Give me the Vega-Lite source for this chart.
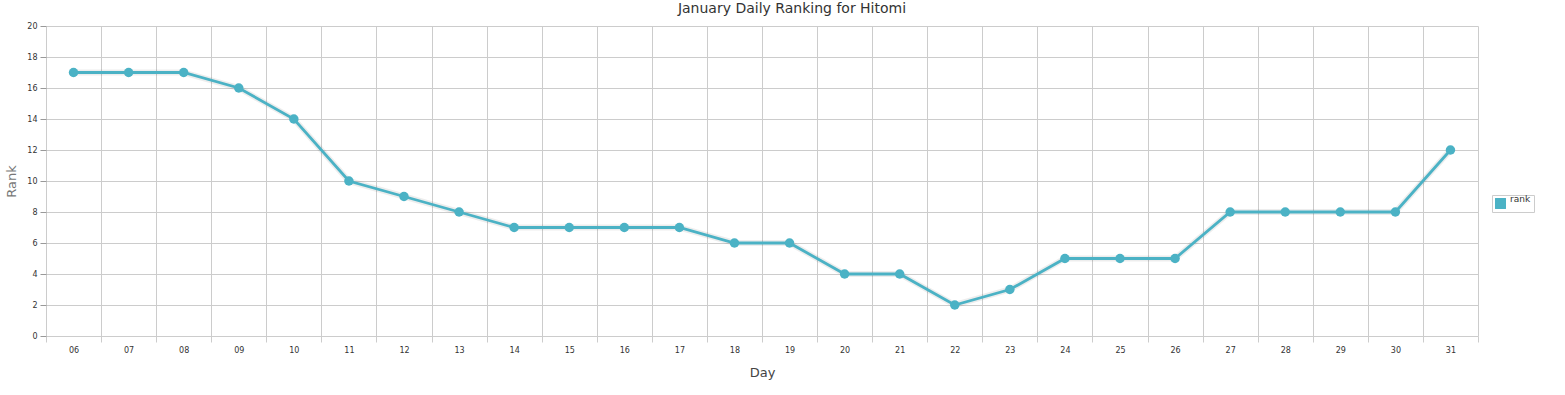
{
  "$schema": "https://vega.github.io/schema/vega-lite/v6.json",
  "autosize": "none",
  "width": 1432,
  "height": 310,
  "padding": {"left": 46, "top": 26, "right": 87, "bottom": 59},
  "background": "white",
  "title": {
    "text": "January Daily Ranking for Hitomi",
    "font": "DejaVu Sans",
    "fontSize": 14,
    "fontWeight": "normal",
    "color": "#333333",
    "offset": 6,
    "dx": 30
  },
  "data": {
    "values": [
      {"day": "06", "rank": 17, "series": "rank"},
      {"day": "07", "rank": 17, "series": "rank"},
      {"day": "08", "rank": 17, "series": "rank"},
      {"day": "09", "rank": 16, "series": "rank"},
      {"day": "10", "rank": 14, "series": "rank"},
      {"day": "11", "rank": 10, "series": "rank"},
      {"day": "12", "rank": 9, "series": "rank"},
      {"day": "13", "rank": 8, "series": "rank"},
      {"day": "14", "rank": 7, "series": "rank"},
      {"day": "15", "rank": 7, "series": "rank"},
      {"day": "16", "rank": 7, "series": "rank"},
      {"day": "17", "rank": 7, "series": "rank"},
      {"day": "18", "rank": 6, "series": "rank"},
      {"day": "19", "rank": 6, "series": "rank"},
      {"day": "20", "rank": 4, "series": "rank"},
      {"day": "21", "rank": 4, "series": "rank"},
      {"day": "22", "rank": 2, "series": "rank"},
      {"day": "23", "rank": 3, "series": "rank"},
      {"day": "24", "rank": 5, "series": "rank"},
      {"day": "25", "rank": 5, "series": "rank"},
      {"day": "26", "rank": 5, "series": "rank"},
      {"day": "27", "rank": 8, "series": "rank"},
      {"day": "28", "rank": 8, "series": "rank"},
      {"day": "29", "rank": 8, "series": "rank"},
      {"day": "30", "rank": 8, "series": "rank"},
      {"day": "31", "rank": 12, "series": "rank"}
    ]
  },
  "encoding": {
    "x": {
      "field": "day",
      "type": "ordinal",
      "bandPosition": 0.5,
      "scale": {"type": "band", "paddingInner": 0, "paddingOuter": 0},
      "axis": {
        "title": "Day",
        "titleFont": "DejaVu Sans",
        "titleFontSize": 13,
        "titleFontWeight": "normal",
        "titleColor": "#444444",
        "titlePadding": 12,
        "labelAngle": 0,
        "labelFont": "DejaVu Sans",
        "labelFontSize": 8,
        "labelColor": "#333333",
        "labelPadding": 4,
        "tickBand": "extent",
        "tickColor": "#cccccc",
        "tickSize": 6,
        "grid": true,
        "gridColor": "#cccccc",
        "domain": false
      }
    },
    "y": {
      "field": "rank",
      "type": "quantitative",
      "scale": {"domain": [0, 20], "nice": false, "zero": true},
      "axis": {
        "title": "Rank",
        "titleFont": "DejaVu Sans",
        "titleFontSize": 13,
        "titleFontWeight": "normal",
        "titleColor": "#777777",
        "titlePadding": 8,
        "values": [0, 2, 4, 6, 8, 10, 12, 14, 16, 18, 20],
        "labelFont": "DejaVu Sans",
        "labelFontSize": 8,
        "labelColor": "#333333",
        "labelPadding": 3,
        "tickColor": "#999999",
        "tickSize": 6,
        "grid": true,
        "gridColor": "#cccccc",
        "domain": false
      }
    },
    "color": {
      "field": "series",
      "type": "nominal",
      "scale": {"range": ["#4bb2c5"]},
      "legend": {
        "title": null,
        "orient": "none",
        "legendX": 1446,
        "legendY": 169,
        "symbolType": "square",
        "symbolSize": 120,
        "symbolOpacity": 1,
        "symbolFillColor": "#4bb2c5",
        "symbolStrokeWidth": 0,
        "labelFont": "DejaVu Sans",
        "labelFontSize": 9,
        "labelColor": "#333333",
        "labelBaseline": "bottom",
        "labelOffset": 4,
        "strokeColor": "#cccccc",
        "padding": 3
      }
    }
  },
  "layer": [
    {
      "mark": {"type": "line", "strokeWidth": 6, "color": "#000000", "opacity": 0.07},
      "encoding": {"color": {"value": "#000000"}}
    },
    {
      "mark": {"type": "line", "strokeWidth": 2.8}
    },
    {
      "mark": {"type": "circle", "size": 90, "opacity": 1}
    }
  ],
  "config": {
    "view": {"stroke": null}
  }
}
